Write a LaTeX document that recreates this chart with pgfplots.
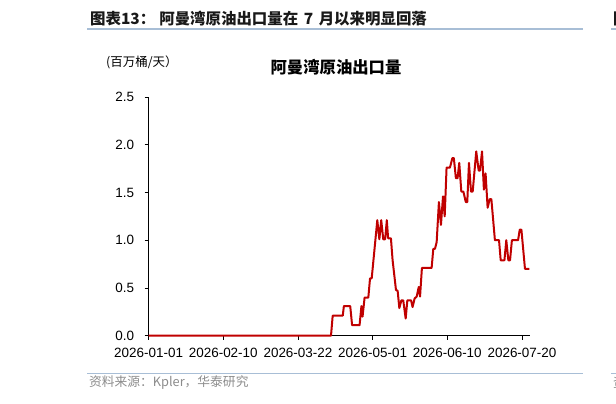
\documentclass[border=0pt]{standalone}
\usepackage{pgfplots}
\pgfplotsset{compat=1.18}
\usepackage{fontspec}
\setmainfont{Liberation Sans}
\newfontfamily\cjk{Noto Sans CJK SC}
\definecolor{oilred}{RGB}{192,0,0}
\definecolor{rulecol}{RGB}{168,190,214}
\definecolor{srcgrey}{RGB}{140,140,140}
\definecolor{headtxt}{RGB}{25,25,25}

% days since 2026-01-01, million bbl/day
\pgfplotstableread{
day   val
0     0
97.7  0
98.6  0.21
104   0.21
104.6 0.31
108   0.31
109   0.11
113   0.11
114   0.31
114.6 0.2
115.7 0.4
117.7 0.4
118.6 0.6
119.5 0.6
122.5 1.21
123.6 1.01
124.6 1.21
125.7 1.01
126.7 1.01
127.6 1.21
128.3 1.02
129.8 1.02
130.7 0.79
132.5 0.48
133.4 0.47
134.3 0.29
135.4 0.37
136.4 0.37
137.7 0.18
138.6 0.37
140.6 0.37
141.4 0.30
142.5 0.39
143.6 0.41
144.7 0.51
145.4 0.41
146.4 0.71
151.6 0.71
152.5 0.91
153.4 0.91
154.3 0.98
155.5 1.40
156.6 1.16
157.7 1.46
158.6 1.25
159.6 1.76
161.4 1.76
162.7 1.86
163.5 1.86
164.6 1.65
165.5 1.65
166.4 1.81
167.5 1.51
168.6 1.51
169.9 1.40
170.7 1.40
171.6 1.81
172.7 1.51
173.6 1.51
175.5 1.93
176.8 1.73
177.5 1.73
178.6 1.93
179.6 1.53
180.5 1.70
181.6 1.34
182.7 1.43
183.6 1.43
185.5 1.00
187.7 1.00
188.6 0.79
190.6 0.79
191.6 1.00
192.7 0.79
193.6 0.79
194.6 1.00
197.9 1.00
198.8 1.11
199.7 1.11
201.6 0.70
203.9 0.70
}\omanexports

\begin{document}
\begin{tikzpicture}[x=1bp,y=1bp]
\path[use as bounding box, clip] (0,0) rectangle (616,403);

% header
\node[anchor=west, inner sep=0pt, text=headtxt] at (90,384.3)
  {\cjk\bfseries\fontsize{15.5}{18}\selectfont 图表13：\hspace{4bp}阿曼湾原油出口量在\hspace{2bp} 7 \hspace{2bp}月以来明显回落};
\draw[rulecol, line width=1.5bp] (87,374) -- (583,374);
\draw[rulecol, line width=1.5bp] (611,374) -- (640,374);
\node[anchor=west, inner sep=0pt, text=headtxt] at (613,384.3)
  {\cjk\bfseries\fontsize{15.5}{18}\selectfont 图};

% unit and chart title
\node[anchor=west, inner sep=0pt] at (106,340.5)
  {\cjk\fontsize{12.5}{15}\selectfont (百万桶/天）};
\node[inner sep=0pt] at (336,336)
  {\cjk\bfseries\fontsize{16.4}{19}\selectfont 阿曼湾原油出口量};

\begin{axis}[
    at={(148.6bp,67.3bp)},
    anchor=south west,
    scale only axis,
    width=381.4bp,
    height=238.7bp,
    xmin=0, xmax=204.3,
    ymin=0, ymax=2.5,
    axis x line*=bottom,
    axis y line*=left,
    axis line style={-, black, line width=0.8bp},
    tick style={black, line width=0.8bp},
    tick align=outside,
    major tick length=4bp,
    xtick={0,40,80,120,160,200},
    xticklabels={2026-01-01,2026-02-10,2026-03-22,2026-05-01,2026-06-10,2026-07-20},
    ytick={0,0.5,1,1.5,2,2.5},
    /pgf/number format/assume math mode=true,
    y tick label style={xshift=-7bp,
      /pgf/number format/fixed,
      /pgf/number format/fixed zerofill,
      /pgf/number format/precision=1},
    x tick label style={yshift=-5bp},
    tick label style={font=\fontsize{13.5}{16}\selectfont},
    clip=false,
]
\addplot[oilred, line width=2bp, line join=round] table[x=day, y=val] {\omanexports};
\end{axis}

% source
\draw[rulecol, line width=1bp] (87,29.7) -- (583,29.7);
\draw[rulecol, line width=1bp] (611,29.7) -- (640,29.7);
\node[anchor=west, inner sep=0pt, text=srcgrey] at (89,20)
  {\cjk\fontsize{12.8}{15}\selectfont 资料来源：Kpler，华泰研究};
\node[anchor=west, inner sep=0pt, text=srcgrey] at (613,20)
  {\cjk\fontsize{12.8}{15}\selectfont 资};
\end{tikzpicture}
\end{document}
